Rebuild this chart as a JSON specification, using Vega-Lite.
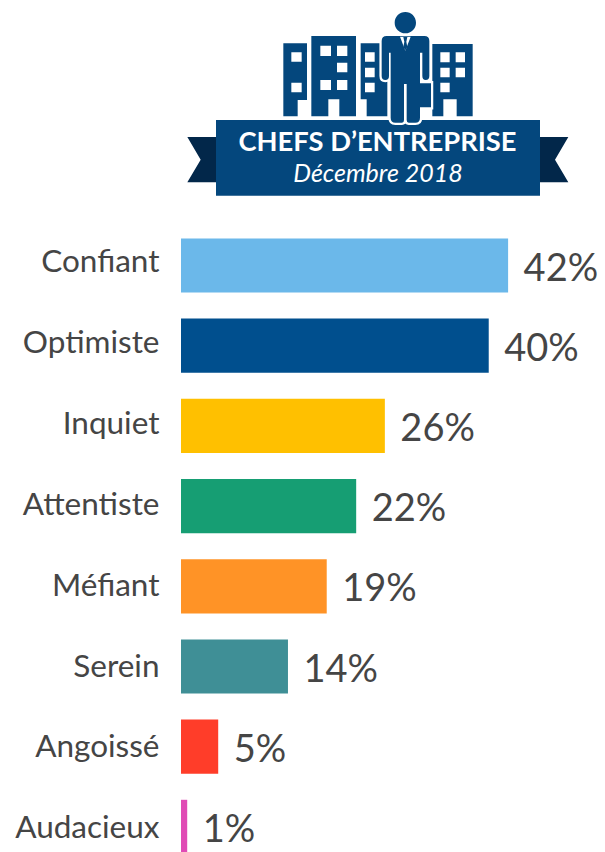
{
"$schema":"https://vega.github.io/schema/vega-lite/v6.json",
"width":424,"height":627,
"autosize":{"type":"none"},
"padding":{"left":181,"top":225,"right":0,"bottom":0},
"background":"white",
"view":{"stroke":null},
"config":{"font":"Lato"},
"resolve":{"scale":{"color":"independent","y":"independent"},"axis":{"y":"independent"}},
"layer":[
{"data":{"values":[{"part":"ruban"}]},"mark":{"type":"point","filled":true,"opacity":1,"size":0.44444444,"color":"#02274A","shape":"M -617,-1204.5 h86 v136 h-86 l40,-68 z M 441,-1204.5 h85 l-40,68 l40,68 h-85 z"},"encoding":{}},
{"data":{"values":[{"part":"bandeau"}]},"mark":{"type":"point","filled":true,"opacity":1,"size":0.44444444,"color":"#04477D","shape":"M -531,-1255.5 h972 v227 h-972 z"},"encoding":{}},
{"data":{"values":[{"part":"immeubles"}]},"mark":{"type":"point","filled":true,"opacity":1,"size":0.44444444,"color":"#04477D","shape":"M -329,-1485.5 h71 v170 h-28 v49 h-43 z M -245,-1507.5 h134 v241 h-50 v-51 h-33 v51 h-51 z M -97,-1485.5 h80 v219 h-62 v-51 h-18 z M 118,-1483.5 h121 v217 h-48 v-51 h-40 v51 h-33 z"},"encoding":{}},
{"data":{"values":[{"part":"fenetres"}]},"mark":{"type":"point","filled":true,"opacity":1,"size":0.44444444,"color":"#FFFFFF","shape":"M -305,-1458.5 h31 v28 h-31 z M -305,-1367.5 h31 v29 h-31 z M -218,-1478.5 h32 v31 h-32 z M -168,-1478.5 h31 v31 h-31 z M -168,-1427.5 h31 v29 h-31 z M -218,-1375.5 h32 v30 h-32 z M -168,-1375.5 h31 v30 h-31 z M -84,-1458.5 h29 v28 h-29 z M -84,-1412.5 h29 v29 h-29 z M -84,-1367.5 h29 v29 h-29 z M 142,-1458.5 h28 v30 h-28 z M 188,-1458.5 h28 v30 h-28 z M 142,-1412.5 h28 v29 h-28 z M 188,-1412.5 h28 v29 h-28 z M 142,-1367.5 h28 v29 h-28 z"},"encoding":{}},
{"data":{"values":[{"part":"contour"}]},"mark":{"type":"point","filled":true,"opacity":1,"size":0.44444444,"fill":"#FFFFFF","stroke":"#FFFFFF","strokeWidth":4.5,"shape":"M 81,-1365.5 h33 v72 h-33 z M -19,-1507.5 h113 q15,0 15,15 v105 q0,12 -11,12 q-10,0 -10,-12 v-70 h-7 v195 q0,15 -14,15 h-20 q-6,0 -6,-8 v-108 h-8 v108 q0,8 -6,8 h-20 q-14,0 -14,-15 v-195 h-5 v70 q0,12 -11,12 q-11,0 -11,-12 v-105 q0,-15 15,-15 z"},"encoding":{}},
{"data":{"values":[{"part":"homme"}]},"mark":{"type":"point","filled":true,"opacity":1,"size":0.44444444,"color":"#04477D","shape":"M 81,-1365.5 h33 v72 h-33 z M -19,-1507.5 h113 q15,0 15,15 v105 q0,12 -11,12 q-10,0 -10,-12 v-70 h-7 v195 q0,15 -14,15 h-20 q-6,0 -6,-8 v-108 h-8 v108 q0,8 -6,8 h-20 q-14,0 -14,-15 v-195 h-5 v70 q0,12 -11,12 q-11,0 -11,-12 v-105 q0,-15 15,-15 z M 5,-1547.5 a32,32 0 1,0 64,0 a32,32 0 1,0 -64,0 z"},"encoding":{}},
{"data":{"values":[{"part":"col"}]},"mark":{"type":"point","filled":true,"opacity":1,"size":0.44444444,"color":"#FFFFFF","shape":"M 21,-1505.5 L 53,-1505.5 L 37,-1463.5 z"},"encoding":{}},
{"data":{"values":[{"part":"cravate"}]},"mark":{"type":"point","filled":true,"opacity":1,"size":0.44444444,"color":"#04477D","shape":"M 31,-1504.5 h12 l-3,14 l3,16 l-6,10 l-6,-10 l3,-16 z"},"encoding":{}},
{"data":{"values":[{"titre":"CHEFS D’ENTREPRISE"}]},"mark":{"type":"text","font":"Lato","fontWeight":"bold","fontSize":27.3,"color":"#FFFFFF","align":"center","baseline":"middle","dx":-15.5,"dy":-395.5},"encoding":{"text":{"field":"titre"}}},
{"data":{"values":[{"titre":"Décembre 2018"}]},"mark":{"type":"text","font":"Lato","fontStyle":"italic","fontSize":25,"color":"#FFFFFF","align":"center","baseline":"middle","dx":-15,"dy":-365},"encoding":{"text":{"field":"titre"}}},
{"data":{"name":"d","values":[
{"etat":"Confiant","valeur":42.2,"label":"42%"},
{"etat":"Optimiste","valeur":39.7,"label":"40%"},
{"etat":"Inquiet","valeur":26.3,"label":"26%"},
{"etat":"Attentiste","valeur":22.6,"label":"22%"},
{"etat":"Méfiant","valeur":18.8,"label":"19%"},
{"etat":"Serein","valeur":13.8,"label":"14%"},
{"etat":"Angoissé","valeur":4.8,"label":"5%"},
{"etat":"Audacieux","valeur":0.8,"label":"1%"}
]},
"encoding":{
"y":{"field":"etat","type":"nominal","sort":null,"scale":{"range":[0.4,642],"paddingInner":0.324,"paddingOuter":0.162},"axis":null},
"x":{"field":"valeur","type":"quantitative","scale":{"domain":[0,54.7],"range":[0,424],"nice":false,"zero":true},"axis":null}
},
"layer":[
{"mark":{"type":"bar"},"encoding":{"color":{"field":"etat","type":"nominal","legend":null,"sort":null,"scale":{"domain":["Confiant","Optimiste","Inquiet","Attentiste","Méfiant","Serein","Angoissé","Audacieux"],"range":["#6BB8EA","#004F8E","#FFC000","#169E73","#FF9326","#3F8F96","#FF3D29","#E04BB5"]}}}},
{"mark":{"type":"text","align":"left","baseline":"middle","dx":15.5,"dy":4,"font":"Lato","fontSize":38,"color":"#454545"},"encoding":{"text":{"field":"label"}}}
]},
{"data":{"name":"n","values":[
{"etat":"Confiant"},{"etat":"Optimiste"},{"etat":"Inquiet"},{"etat":"Attentiste"},{"etat":"Méfiant"},{"etat":"Serein"},{"etat":"Angoissé"},{"etat":"Audacieux"}
]},
"mark":{"type":"text","align":"right","baseline":"middle","dx":-21.5,"dy":1,"font":"Lato","fontSize":31.5,"color":"#454545"},
"encoding":{
"x":{"datum":0,"type":"quantitative","scale":{"domain":[0,54.7],"range":[0,424],"nice":false,"zero":true},"axis":null},
"y":{"field":"etat","type":"nominal","sort":null,"scale":{"range":[-3.45,643.75],"paddingInner":0.324,"paddingOuter":0.162},"axis":null},
"text":{"field":"etat"}
}}
]
}
